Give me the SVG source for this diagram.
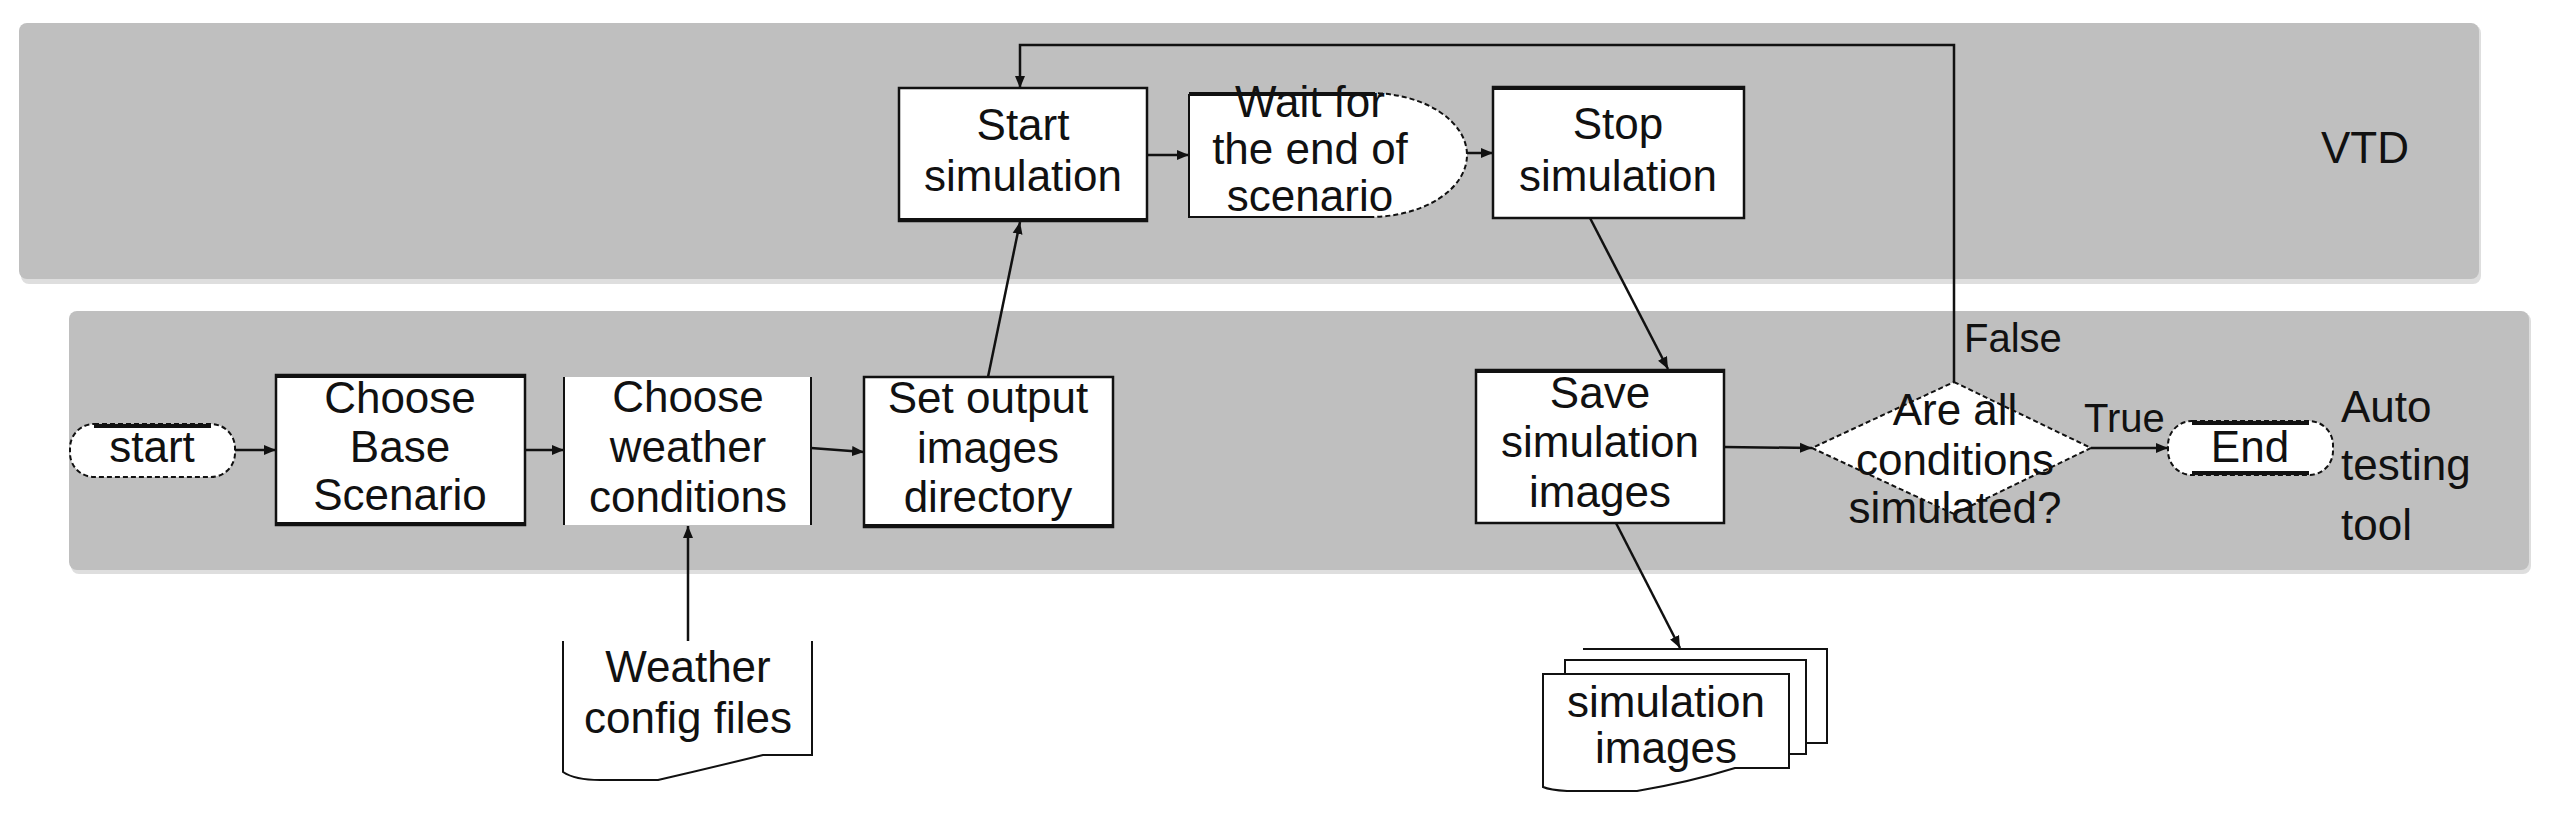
<svg xmlns="http://www.w3.org/2000/svg" width="2555" height="813" viewBox="0 0 2555 813">
<style>
.panel{fill:#bfbfbf}
.shadow{fill:#dedede}
.box{fill:#fff;stroke:#111;stroke-width:2.5}
.thick{stroke:#111;stroke-width:4;fill:none}
.thin{stroke:#111;stroke-width:2;fill:none}
.dash{stroke:#111;stroke-width:2;fill:none;stroke-dasharray:5 3}
.wf{fill:#fff;stroke:none}
text{font-family:"Liberation Sans",Arial,sans-serif;font-size:44px;fill:#111}
.c{text-anchor:middle}
.lbl{font-size:40px}
.conn{stroke:#111;stroke-width:2.5;fill:none}
</style>
<defs>
<marker id="ah" markerUnits="userSpaceOnUse" markerWidth="14" markerHeight="12" refX="12" refY="6" orient="auto">
<path d="M0,1 L12,6 L0,11 Z" fill="#111"/>
</marker>
</defs>
<rect width="2555" height="813" fill="#fff"/>
<g id="lane-vtd">
<rect class="shadow" x="21" y="25" width="2460" height="259" rx="8"/>
<rect class="panel" x="19" y="23" width="2460" height="256" rx="8"/>
<text x="2365" y="163" class="c" font-size="42">VTD</text>
</g>
<g id="lane-auto">
<rect class="shadow" x="71" y="313" width="2460" height="261" rx="8"/>
<rect class="panel" x="69" y="311" width="2460" height="259" rx="8"/>
<text x="2341" y="422">Auto</text>
<text x="2341" y="480">testing</text>
<text x="2341" y="540">tool</text>
</g>
<g id="connectors">
<path class="conn" d="M235,450 L276,450" marker-end="url(#ah)"/>
<path class="conn" d="M525,450 L564,450" marker-end="url(#ah)"/>
<path class="conn" d="M811,448 L864,452" marker-end="url(#ah)"/>
<path class="conn" d="M988,377 L1020,222" marker-end="url(#ah)"/>
<path class="conn" d="M1147,155 L1189,155" marker-end="url(#ah)"/>
<path class="conn" d="M1467,153 L1493,153" marker-end="url(#ah)"/>
<path class="conn" d="M1590,218 L1668,369" marker-end="url(#ah)"/>
<path class="conn" d="M1724,447 L1812,448" marker-end="url(#ah)"/>
<path class="conn" d="M2091,448 L2168,448" marker-end="url(#ah)"/>
<path class="conn" d="M1954,382 L1954,45 L1020,45 L1020,88" marker-end="url(#ah)"/>
<path class="conn" d="M688,641 L688,526" marker-end="url(#ah)"/>
<path class="conn" d="M1616,523 L1680,648" marker-end="url(#ah)"/>
<text x="1964" y="352" class="lbl">False</text>
<text x="2084" y="432" class="lbl">True</text>
</g>
<g id="start">
<rect class="wf" x="70" y="424" width="165" height="53" rx="24"/>
<rect class="dash" x="70" y="424" width="165" height="53" rx="24"/>
<path class="thick" d="M94,426 H211"/>
<text x="152" y="462" class="c">start</text>
</g>
<g id="choose-base">
<rect class="box" x="276" y="375" width="249" height="150"/>
<path class="thick" d="M276,376 H525 M276,524 H525"/>
<text x="400" y="413" class="c">Choose</text>
<text x="400" y="462" class="c">Base</text>
<text x="400" y="510" class="c">Scenario</text>
</g>
<g id="choose-weather">
<rect class="wf" x="564" y="377" width="247" height="148"/>
<path class="thin" d="M564,377 V525 M811,377 V525"/>
<text x="688" y="412" class="c">Choose</text>
<text x="688" y="462" class="c">weather</text>
<text x="688" y="512" class="c">conditions</text>
</g>
<g id="set-output">
<rect class="box" x="864" y="377" width="249" height="150"/>
<path class="thick" d="M864,526 H1113"/>
<text x="988" y="413" class="c">Set output</text>
<text x="988" y="463" class="c">images</text>
<text x="988" y="512" class="c">directory</text>
</g>
<g id="start-sim">
<rect class="box" x="899" y="88" width="248" height="133"/>
<path class="thick" d="M899,220 H1147"/>
<text x="1023" y="140" class="c">Start</text>
<text x="1023" y="191" class="c">simulation</text>
</g>
<g id="wait">
<path class="wf" d="M1189,93 H1370 A97,62 0 0 1 1370,217 H1189 Z"/>
<path class="thick" d="M1189,94 H1375"/>
<path class="thin" d="M1189,94 V217 H1370"/>
<path class="dash" d="M1370,93 A97,62 0 0 1 1370,217"/>
<text x="1310" y="117" class="c">Wait for</text>
<text x="1310" y="164" class="c">the end of</text>
<text x="1310" y="211" class="c">scenario</text>
</g>
<g id="stop-sim">
<rect class="box" x="1493" y="87" width="251" height="131"/>
<path class="thick" d="M1493,88 H1744"/>
<text x="1618" y="139" class="c">Stop</text>
<text x="1618" y="191" class="c">simulation</text>
</g>
<g id="save-sim">
<rect class="box" x="1476" y="370" width="248" height="153"/>
<path class="thick" d="M1476,371 H1724"/>
<text x="1600" y="408" class="c">Save</text>
<text x="1600" y="457" class="c">simulation</text>
<text x="1600" y="507" class="c">images</text>
</g>
<g id="decision">
<polygon class="wf" points="1954,382 2091,448 1954,514 1812,448"/>
<polygon class="dash" points="1954,382 2091,448 1954,514 1812,448"/>
<text x="1955" y="425" class="c">Are all</text>
<text x="1955" y="475" class="c">conditions</text>
<text x="1955" y="523" class="c">simulated?</text>
</g>
<g id="end">
<rect class="wf" x="2168" y="421" width="165" height="54" rx="24"/>
<rect class="dash" x="2168" y="421" width="165" height="54" rx="24"/>
<path class="thick" d="M2192,423 H2309 M2192,473 H2309"/>
<text x="2250" y="462" class="c">End</text>
</g>
<g id="weather-files">
<path class="wf" d="M563,641 V772 Q575,780 600,780 H658 Q710,768 763,755 H812 V641 Z"/>
<path class="thin" d="M563,641 V772 Q575,780 600,780 H658 Q710,768 763,755 H812 V641"/>
<text x="688" y="682" class="c">Weather</text>
<text x="688" y="733" class="c">config files</text>
</g>
<g id="sim-images">
<path class="wf" d="M1583,649 H1827 V743 H1583 Z"/>
<path class="thin" d="M1583,649 H1827 V743 H1806"/>
<path class="wf" d="M1565,660 H1806 V754 H1565 Z"/>
<path class="thin" d="M1565,673 V660 H1806 V754 H1789"/>
<path class="wf" d="M1543,674 H1789 V768 H1735 Q1690,782 1637,791 H1567 Q1550,790 1543,787 Z"/>
<path class="thin" d="M1543,674 H1789 V768 H1735 Q1690,782 1637,791 H1567 Q1550,790 1543,787 Z"/>
<text x="1666" y="717" class="c">simulation</text>
<text x="1666" y="763" class="c">images</text>
</g>
</svg>
